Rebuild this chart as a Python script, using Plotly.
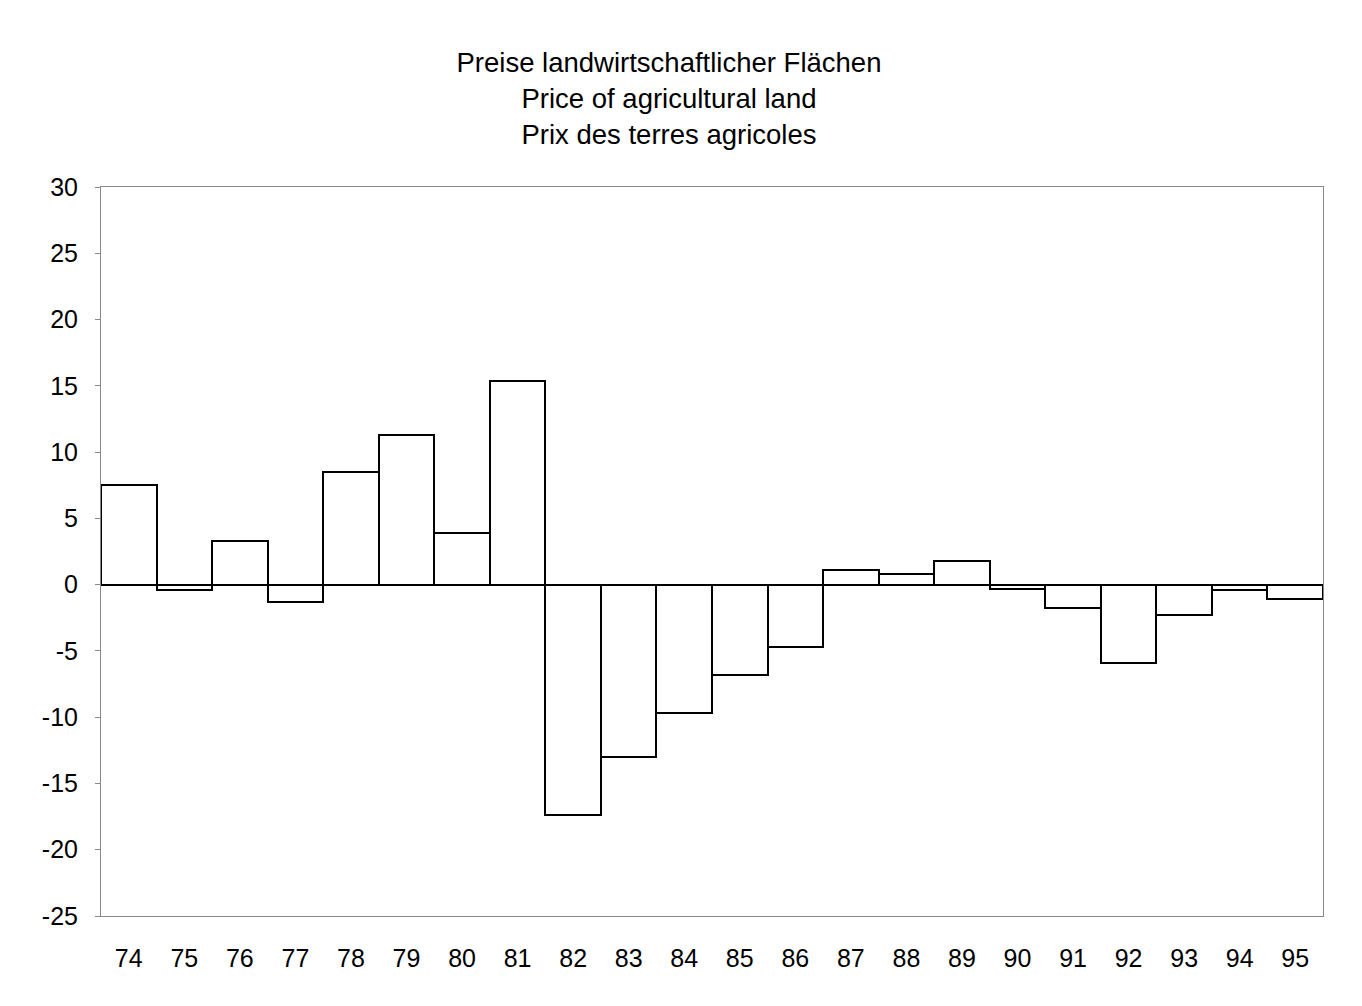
import plotly.graph_objects as go

years = ['74', '75', '76', '77', '78', '79', '80', '81', '82', '83', '84',
         '85', '86', '87', '88', '89', '90', '91', '92', '93', '94', '95']
change = [7.5, -0.4, 3.3, -1.3, 8.5, 11.3, 3.9, 15.4, -17.4, -13.0, -9.7,
          -6.8, -4.7, 1.1, 0.8, 1.8, -0.3, -1.8, -5.9, -2.3, -0.4, -1.1]

y_ticks = [-25, -20, -15, -10, -5, 0, 5, 10, 15, 20, 25, 30]

title_lines = ['Preise landwirtschaftlicher Flächen',
               'Price of agricultural land',
               'Prix des terres agricoles']

fig = go.Figure()

fig.add_trace(go.Bar(x=years, y=change, width=1,
                     marker=dict(color='white', line=dict(color='black', width=2))))

fig.update_layout(
    width=1362, height=1006,
    paper_bgcolor='white', plot_bgcolor='white',
    margin=dict(l=93, r=47, t=179, b=98),
    showlegend=False,
    font=dict(family='Liberation Sans, Arial, sans-serif', size=25, color='black'),
    title=dict(text='<br>'.join(title_lines), x=0.4853, xanchor='center',
               y=0.936, yanchor='top',
               font=dict(size=27.5, color='black')),
    bargap=0,
)

# hyphen instead of unicode minus, like the original
fig.update_xaxes(showgrid=False, showline=True, linecolor='#888', linewidth=1, mirror=True,
                 ticks='', ticklabelstandoff=20, zeroline=False)
fig.update_yaxes(range=[-25, 30], tickvals=y_ticks, ticktext=[str(v) for v in y_ticks],
                 showgrid=False, showline=True, linecolor='#888',
                 linewidth=1, mirror=True, ticks='outside', ticklen=5, tickcolor='#888',
                 ticklabelstandoff=12, zeroline=True, zerolinecolor='black', zerolinewidth=2)

fig.write_html("out.html")
